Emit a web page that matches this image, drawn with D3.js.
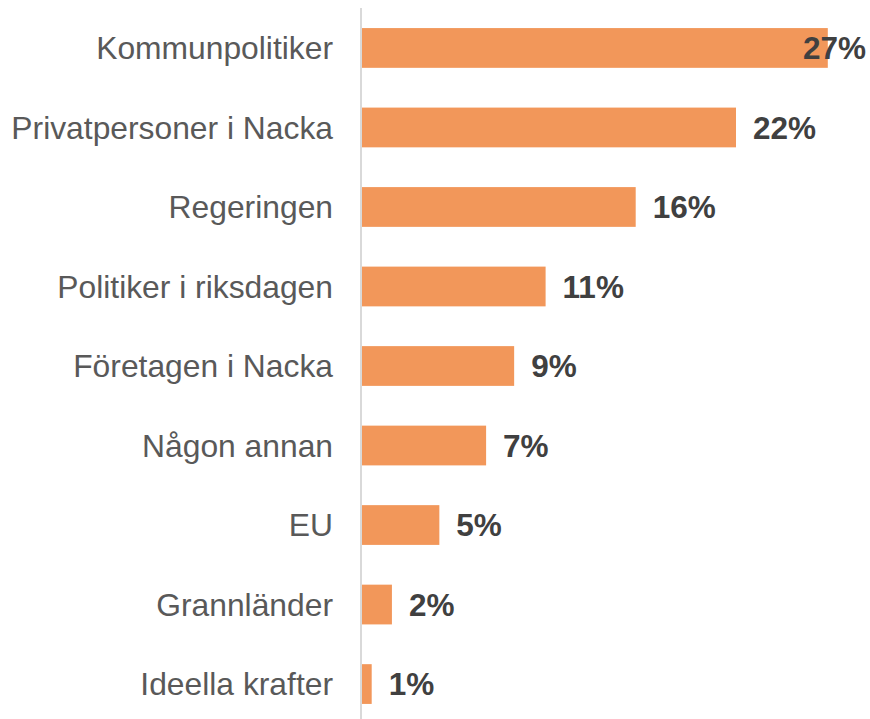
<!DOCTYPE html>
<html>
<head>
<meta charset="utf-8">
<script src="https://cdn.jsdelivr.net/npm/d3@7"></script>
<style>
  body { margin: 0; background: #fff; }
  text { font-family: Arial, "Liberation Sans", sans-serif; }
</style>
</head>
<body>
<div id="chart"></div>
<script>
// categories, top to bottom
var categories = ["Kommunpolitiker", "Privatpersoner i Nacka", "Regeringen",
  "Politiker i riksdagen", "Företagen i Nacka", "Någon annan", "EU",
  "Grannländer", "Ideella krafter"];
// share in percent
var values = [27.4, 22.0, 16.1, 10.8, 8.95, 7.3, 4.55, 1.76, 0.57];

var W = 870, H = 719;
var left = 362;

var svg = d3.select("#chart").append("svg")
    .attr("width", W)
    .attr("height", H);

// set the ranges
var y = d3.scaleBand()
    .domain(categories)
    .range([7.8, 724.2])
    .paddingInner(0.5)
    .paddingOuter(0.255);
var x = d3.scaleLinear()
    .domain([0, 30])
    .range([left, left + 510]);

// bars
svg.selectAll(".bar")
    .data(values)
    .enter().append("rect")
    .attr("class", "bar")
    .attr("x", x(0))
    .attr("y", function(d, i) { return y(categories[i]); })
    .attr("width", function(d) { return x(d) - x(0); })
    .attr("height", y.bandwidth())
    .style("fill", "#F2975A");

// vertical axis line
svg.append("line")
    .attr("x1", left - 1).attr("x2", left - 1)
    .attr("y1", 8).attr("y2", H)
    .style("stroke", "#d9d9d9")
    .style("stroke-width", 2);

// category labels
svg.selectAll(".cat")
    .data(categories)
    .enter().append("text")
    .attr("class", "cat")
    .attr("x", 333)
    .attr("y", function(d) { return y(d) + y.bandwidth() / 2; })
    .attr("dy", "0.36em")
    .attr("text-anchor", "end")
    .style("font-size", "31.8px")
    .style("fill", "#595959")
    .text(function(d) { return d; });

// value labels, pushed back inside when they would run off the edge
svg.selectAll(".val")
    .data(values)
    .enter().append("text")
    .attr("class", "val")
    .attr("y", function(d, i) { return y(categories[i]) + y.bandwidth() / 2; })
    .attr("dy", "0.36em")
    .style("font-size", "31.5px")
    .style("font-weight", "bold")
    .style("fill", "#404040")
    .text(function(d) { return Math.round(d) + "%"; })
    .attr("x", function(d) {
      var w = this.getComputedTextLength();
      return Math.min(x(d) + 17, W - 4 - w);
    });
</script>
</body>
</html>
